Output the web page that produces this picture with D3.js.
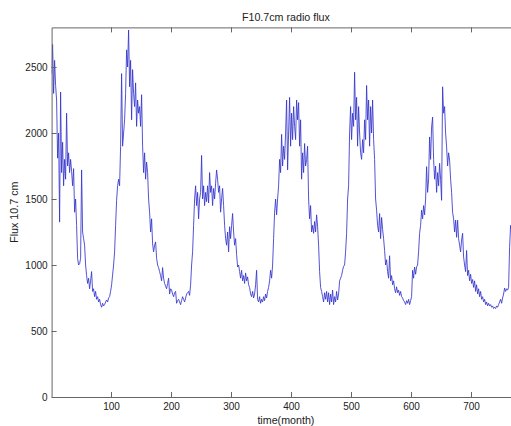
<!DOCTYPE html>
<html>
<head>
<meta charset="utf-8">
<script src="https://cdn.jsdelivr.net/npm/d3@7"></script>
<style>
  html, body { margin: 0; padding: 0; background: #fff; }
  svg { display: block; }
  text { font-family: "Liberation Sans", Arial, sans-serif; fill: #222; }
</style>
</head>
<body>
<svg id="chart" width="511" height="426"></svg>
<script>
// ---- data (one sample every 5/3 month) ----
const titleText = "F10.7cm radio flux";
const xLabel = "time(month)";
const yLabel = "Flux 10.7 cm";
const xTicks = [100, 200, 300, 400, 500, 600, 700];
const yTicks = [0, 500, 1000, 1500, 2000, 2500];
const xDomain = [1, 782];
const yDomain = [0, 2800];
const sampleStart = 1;
const sampleStep = 5 / 3;
const flux = [
  2450, 2670, 2300, 2550, 2360, 2250, 1810, 2000, 1325, 2310,
  1700, 1930, 1600, 1800, 1650, 2150, 1750, 1850, 1700, 1800,
  1710, 1600, 1730, 1400, 1500, 1300, 1050, 1000, 1010, 1050,
  1720, 1250, 1200, 1150, 1000, 920, 860, 900, 820, 880,
  950, 800, 820, 760, 800, 740, 760, 720, 740, 700,
  680, 710, 690, 700, 720, 735, 720, 750, 760, 800,
  850, 925, 1000, 1100, 1300, 1490, 1600, 1650, 1600, 1900,
  2450, 1900, 2000, 2100, 2300, 2630, 2500, 2780, 2350, 2550,
  2100, 2480, 2300, 2200, 2380, 2050, 2250, 2150, 2200, 2050,
  2290, 1900, 1700, 1850, 1650, 1780, 1700, 1500, 1400, 1250,
  1350, 1160, 1100, 1150, 1175, 1050, 1000, 980, 950, 920,
  880, 980, 900, 860, 840, 820, 860, 900, 780, 820,
  810, 780, 760, 790, 800, 710, 730, 740, 720, 700,
  730, 760, 740, 720, 750, 780, 790, 800, 770, 850,
  1000, 1100, 1300, 1500, 1600, 1450, 1550, 1350, 1500, 1550,
  1830, 1500, 1600, 1450, 1550, 1480, 1600, 1470, 1700, 1550,
  1600, 1450, 1580, 1500, 1620, 1720, 1650, 1550, 1600, 1400,
  1500, 1580, 1450, 1300, 1200, 1150, 1250, 1100, 1290, 1200,
  1300, 1390, 1250, 1150, 1200, 1080, 985, 1000, 950, 900,
  960, 880, 920, 860, 940, 880, 910, 850, 830, 780,
  760, 800, 750, 780, 850, 960, 740, 720, 760, 710,
  740, 720, 760, 730, 780, 750, 800, 830, 880, 960,
  900, 1000, 1200, 1400, 1500, 1380, 1500, 1600, 1800, 1700,
  1990, 1750, 1900, 1800, 2000, 2250, 1720, 2000, 2270, 1900,
  2150, 1950, 2200, 2050, 1950, 2250, 2100, 2230, 1900, 2100,
  1650, 1850, 1700, 1920, 1750, 1800, 1900, 1500, 1350, 1450,
  1250, 1300, 1240, 1330, 1250, 1380, 1290, 1150, 950, 830,
  800, 760, 720, 790, 740, 800, 720, 790, 700, 780,
  720, 810, 700, 760, 720, 800, 735, 780, 880, 900,
  920, 960, 990, 1000, 1100, 1240, 1500, 1600, 2000, 2200,
  1950, 2150, 2050, 2460, 2100, 2270, 1900, 2200, 2000, 1850,
  1800, 1950, 1850, 2100, 1950, 2360, 2100, 2250, 1900, 2200,
  2000, 2250, 1950, 1800, 1500, 1415, 1300, 1250, 1390, 1200,
  1360, 1270, 1200, 1110, 1000, 1040, 950, 900, 1070, 880,
  920, 850, 880, 820, 790, 835, 790, 810, 770, 800,
  760, 750, 730, 720, 700, 730, 710, 740, 700, 730,
  760, 960, 900, 985, 930, 985, 1000, 1100, 1240, 1300,
  1415, 1350, 1450, 1380, 1500, 1745, 1550, 1650, 1970, 1800,
  2045, 2120, 1800, 1650, 1750, 1550, 1700, 1600, 1770, 1650,
  1490, 2350, 2150, 2200, 2000, 1895, 1750, 1850, 1795, 1650,
  1550, 1400, 1350, 1250, 1340, 1210, 1340, 1200, 1150, 1100,
  1190, 1240, 1060, 1000, 950, 1110, 920, 960, 880, 930,
  860, 890, 830, 880, 800, 850, 780, 820, 760, 800,
  740, 760, 720, 740, 700, 720, 690, 710, 690, 700,
  680, 690, 670, 680, 670, 690, 680, 700, 720, 740,
  710, 750, 780, 825, 800, 820, 810, 830, 1135, 1300,
  1250, 1400, 1350, 1500, 1450
];

// ---- layout ----
const svg = d3.select("#chart");
const mLeft = 51.6, mRight = 520.2, mTop = 27.4, mBottom = 397;
const axisColor = "#666";

svg.append("rect").attr("width", 511).attr("height", 426).attr("fill", "#fff");

const x = d3.scaleLinear().domain(xDomain).range([mLeft, mRight]);
const y = d3.scaleLinear().domain(yDomain).range([mBottom, mTop]);

svg.append("defs").append("clipPath").attr("id", "clip")
  .append("rect").attr("x", mLeft).attr("y", mTop)
  .attr("width", mRight - mLeft).attr("height", mBottom - mTop);

const pts = flux.map((v, i) => [sampleStart + i * sampleStep, v]);
const line = d3.line().x(d => x(d[0])).y(d => y(d[1]));

svg.append("path")
  .datum(pts)
  .attr("clip-path", "url(#clip)")
  .attr("fill", "none")
  .attr("stroke", "#3535cc")
  .attr("stroke-width", 0.85)
  .attr("stroke-linejoin", "round")
  .attr("d", line);

// axes (MATLAB style: inward ticks, box)
const tickLen = 5;
const fmt = d3.format("d");
const xAxisB = d3.axisBottom(x).tickValues(xTicks).tickFormat(fmt).tickSizeInner(-tickLen).tickSizeOuter(0).tickPadding(6);
const xAxisT = d3.axisTop(x).tickValues(xTicks).tickSizeInner(-tickLen).tickSizeOuter(0).tickFormat("");
const yAxisL = d3.axisLeft(y).tickValues(yTicks).tickFormat(fmt).tickSizeInner(-tickLen).tickSizeOuter(0).tickPadding(4);
const yAxisR = d3.axisRight(y).tickValues(yTicks).tickSizeInner(-tickLen).tickSizeOuter(0).tickFormat("");

function style(g) {
  g.selectAll("path").attr("stroke", axisColor).attr("stroke-width", 1);
  g.selectAll("line").attr("stroke", axisColor).attr("stroke-width", 1);
  g.selectAll("text").attr("font-size", 10).attr("fill", "#222")
    .attr("font-family", "'Liberation Sans', Arial, sans-serif");
}

svg.append("g").attr("transform", `translate(0,${mBottom})`).call(xAxisB).call(style);
svg.append("g").attr("transform", `translate(0,${mTop})`).call(xAxisT).call(style);
svg.append("g").attr("transform", `translate(${mLeft},0)`).call(yAxisL).call(style);
svg.append("g").attr("transform", `translate(${mRight},0)`).call(yAxisR).call(style);

// title and labels
const cx = (mLeft + mRight) / 2;
svg.append("text").attr("x", cx).attr("y", 21).attr("text-anchor", "middle")
  .attr("font-size", 10.7).text(titleText);
svg.append("text").attr("x", cx).attr("y", 424).attr("text-anchor", "middle")
  .attr("font-size", 10.7).text(xLabel);
svg.append("text").attr("transform", `translate(18,${(mTop + mBottom) / 2}) rotate(-90)`)
  .attr("text-anchor", "middle").attr("font-size", 10.7).text(yLabel);
</script>
</body>
</html>
